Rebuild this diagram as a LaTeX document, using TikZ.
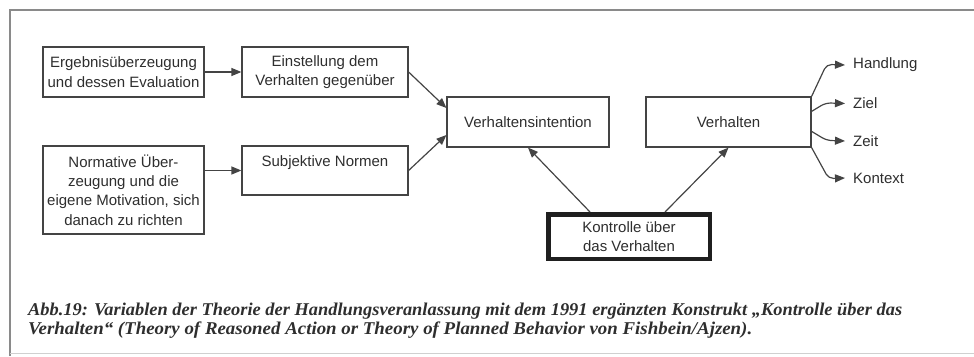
\documentclass[tikz,border=0pt]{standalone}
\usepackage{graphicx}
\usepackage{fontspec}
\setmainfont{Liberation Sans}
\newfontfamily\capfont{Liberation Serif}
\usetikzlibrary{arrows.meta,calc}
\definecolor{txt}{HTML}{2E2E2E}
\definecolor{ln}{HTML}{444444}
\definecolor{frm}{HTML}{8A8A8A}
\begin{document}
\begin{tikzpicture}[x=1pt,y=-1pt,
  box/.style={draw=ln,line width=1.2pt,inner sep=0pt,align=center,text=txt,
    font=\fontsize{15}{19.3}\selectfont},
  lab/.style={anchor=west,inner xsep=8pt,inner ysep=0pt,text=txt,
    font=\fontsize{15}{19.3}\selectfont},
  arr/.style={draw=ln,line width=1.2pt,-{Triangle[length=10pt,width=8pt]}},
  frameline/.style={draw=frm,line width=1.3pt},
  captext/.style={anchor=base west,inner sep=0pt,text=black!82}]
\useasboundingbox (0,0) rectangle (974,356);
% frame
\draw[frameline] (10,356) -- (10,10) -- (974,10);
\draw[draw=frm!40,line width=0.8pt] (10,353) -- (974,353);
% boxes
\node[box,minimum width=161pt,minimum height=50pt] (erg) at (123.5,72)
  {Ergebnisüberzeugung\\und dessen Evaluation};
\node[box,minimum width=166pt,minimum height=50pt] (ein) at (325,72)
  {Einstellung dem\\Verhalten gegenüber};
\node[box,minimum width=161pt,minimum height=88pt] (norm) at (123.5,190)
  {Normative Über-\\zeugung und die\\eigene Motivation, sich\\danach zu richten};
\node[box,minimum width=166pt,minimum height=49pt] (subj) at (325,170.5)
  {Subjektive Normen\\\mbox{}};
\node[box,minimum width=162pt,minimum height=50pt] (vi) at (528,122)
  {Verhaltensintention};
\node[box,minimum width=165pt,minimum height=50pt] (verh) at (728.5,122)
  {Verhalten};
\node[box,draw=black!88,line width=4.5pt,minimum width=161.5pt,minimum height=44.5pt] (kon) at (629,236.5)
  {Kontrolle über\\das Verhalten};
% labels
\node[lab] (hand) at (845,65) {Handlung};
\node[lab] (ziel) at (845,103.5) {Ziel};
\node[lab] (zeit) at (845,141) {Zeit};
\node[lab] (kont) at (845,178) {Kontext};
% arrows
\draw[arr] (erg.east) -- (ein.west);
\draw[arr] (norm.east |- subj.west) -- (subj.west);
\draw[arr] (ein.east) -- ([yshift=14pt]vi.west);
\draw[arr] (subj.east) -- ([yshift=-13pt]vi.west);
\draw[arr] ($(kon.north)+(-39,0)$) -- (vi.south);
\draw[arr] ($(kon.north)+(36,0)$) -- (verh.south);
\draw[arr,rounded corners=5pt] (verh.north east) -- ++(15,-32) -- (hand.west);
\draw[arr,rounded corners=5pt] ($(verh.north east)+(0,15)$) -- ++(14,-8.5) -- (ziel.west);
\draw[arr,rounded corners=5pt] ($(verh.north east)+(0,35)$) -- ++(15,9) -- (zeit.west);
\draw[arr,rounded corners=5pt] (verh.south east) -- ++(17,31) -- (kont.west);
% caption
\node[captext] (cap1) at (28,315) {\resizebox{874pt}{\height}{\capfont\bfseries\itshape\fontsize{18}{18}\selectfont Abb.19: Variablen der Theorie der Handlungsveranlassung mit dem 1991 ergänzten Konstrukt „Kontrolle über das}};
\node[captext] (cap2) at (28,334) {\resizebox{724pt}{\height}{\capfont\bfseries\itshape\fontsize{18}{18}\selectfont Verhalten“ (Theory of Reasoned Action or Theory of Planned Behavior von Fishbein/Ajzen).}};
\end{tikzpicture}
\end{document}
